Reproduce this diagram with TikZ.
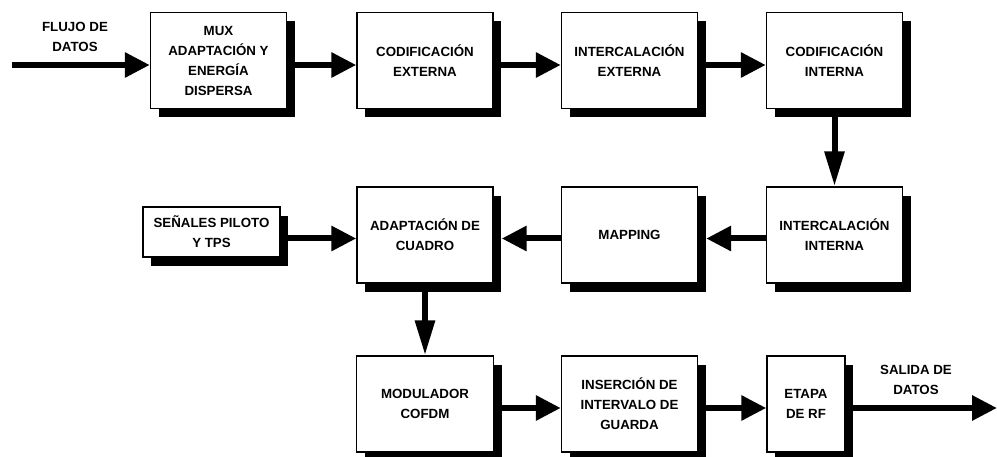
\documentclass[tikz,border=0pt]{standalone}
\usepackage{fontspec}
\setmainfont{Liberation Sans}
\usetikzlibrary{arrows.meta,calc,shadows}

\tikzset{
  blk/.style={draw=black, line width=1.4pt, fill=white, align=center,
    inner sep=2pt, minimum width=136pt, minimum height=96pt,
    font=\bfseries\fontsize{13.3}{20}\selectfont,
    drop shadow={shadow xshift=8pt, shadow yshift=-9pt, fill=black, opacity=1}},
  lbl/.style={align=center, font=\bfseries\fontsize{13.3}{20}\selectfont},
  flow/.style={line width=6pt, -{Triangle[length=25pt,width=24pt]}},
  vflow/.style={line width=6pt, -{Triangle[length=35pt,width=19pt]}}
}

\begin{document}
\begin{tikzpicture}[x=1pt,y=-1pt]
\useasboundingbox (0,0) rectangle (997,457);

% first row
\node[blk] (mux)    at (218.5,60.5) {MUX\\ADAPTACIÓN Y\\ENERGÍA\\DISPERSA};
\node[blk] (codext) at (425,60.5)   {CODIFICACIÓN\\EXTERNA};
\node[blk] (intext) at (629.5,60.5) {INTERCALACIÓN\\EXTERNA};
\node[blk] (codint) at (834.5,60.5) {CODIFICACIÓN\\INTERNA};

% second row
\node[blk, minimum width=137pt, minimum height=50pt] (pilot) at (211.5,232) {SEÑALES PILOTO\\Y TPS};
\node[blk] (adapt)   at (425,235)   {ADAPTACIÓN DE\\CUADRO};
\node[blk] (mapping) at (629.5,235) {MAPPING};
\node[blk] (intint)  at (834.5,235) {INTERCALACIÓN\\INTERNA};

% third row
\node[blk, minimum width=137pt] (mod) at (425,404) {MODULADOR\\COFDM};
\node[blk] (ins) at (629.5,404) {INSERCIÓN DE\\INTERVALO DE\\GUARDA};
\node[blk, minimum width=78pt] (rf) at (806,404) {ETAPA\\DE RF};

% free ends and side labels
\coordinate (in)  at (12,65);
\coordinate (out) at (997,408);
\node[lbl] (flujo)  at (75,37)  {FLUJO DE\\DATOS};
\node[lbl] (salida) at (916,380) {SALIDA DE\\DATOS};

% connectors
\draw[flow] (in) -- ($(mux.west)+(0,4.5)$);
\draw[flow] ($(mux.east)+(0,4.5)$) -- ($(codext.west)+(0,4.5)$);
\draw[flow] ($(codext.east)+(0,4.5)$) -- ($(intext.west)+(0,4.5)$);
\draw[flow] ($(intext.east)+(0,4.5)$) -- ($(codint.west)+(0,4.5)$);
\draw[vflow] (codint.south) -- (intint.north);
\draw[flow] ($(intint.west)+(0,3.5)$) -- ($(mapping.east)+(8,3.5)$);
\draw[flow] ($(mapping.west)+(0,3.5)$) -- ($(adapt.east)+(8,3.5)$);
\draw[flow] ($(pilot.east)+(0,6.5)$) -- ($(adapt.west)+(0,3.5)$);
\draw[vflow] (adapt.south) -- (mod.north);
\draw[flow] ($(mod.east)+(0,4)$) -- ($(ins.west)+(0,4)$);
\draw[flow] ($(ins.east)+(0,4)$) -- ($(rf.west)+(0,4)$);
\draw[flow] ($(rf.east)+(0,4)$) -- (out);
\end{tikzpicture}
\end{document}
